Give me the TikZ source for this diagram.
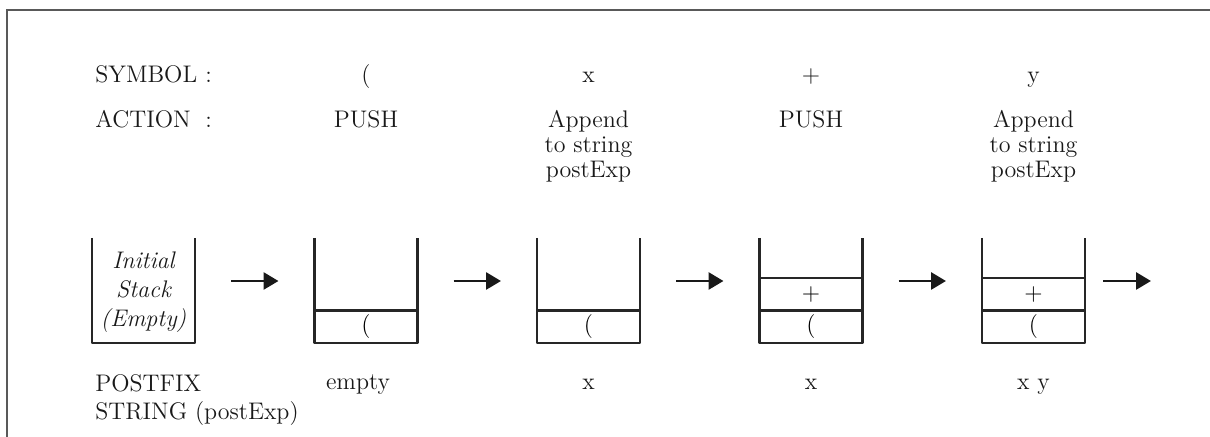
\documentclass[tikz,border=0pt]{standalone}
\usetikzlibrary{positioning,arrows.meta}
\tikzset{
  stack/.style={minimum width=51.5pt, minimum height=52.5pt, inner sep=0pt, outer sep=0pt},
  cell/.style={minimum width=51.5pt, minimum height=16.25pt, inner sep=0pt, outer sep=0pt, font=\fontsize{12}{14}\selectfont},
  wall/.style={line width=1.45pt, line join=round, draw=black!85},
  flow/.style={line width=1.4pt, draw=black!90, -{Triangle[length=7.5pt,width=8.5pt]}, shorten <=18pt, shorten >=18pt},
  lbl/.style={font=\fontsize{12}{12.5}\selectfont, align=center, inner sep=0pt, text=black!90},
}
\begin{document}
\begin{tikzpicture}[x=0.5pt, y=-0.5pt]
	\useasboundingbox (0,0) rectangle (1210,437);
	\draw[line width=1.3pt, draw=black!65] (7,437) -- (7,10) -- (1210,10); %frame

	% the five stacks
	\node[stack] (s1) at (143.5,290.5) {};
	\node[stack, right=59.75pt of s1] (s2) {};
	\node[stack, right=59.75pt of s2] (s3) {};
	\node[stack, right=59.75pt of s3] (s4) {};
	\node[stack, right=59.75pt of s4] (s5) {};
	\foreach \s in {s1,s2,s3,s4,s5}
		\draw[wall] (\s.north west) -- (\s.south west) -- (\s.south east) -- (\s.north east);

	% cells
	\node[cell, above=0pt of s2.south] (c2a) {(};
	\node[cell, above=0pt of s3.south] (c3a) {(};
	\node[cell, above=0pt of s4.south] (c4a) {(};
	\node[cell, above=0pt of c4a] (c4b) {+};
	\node[cell, above=0pt of s5.south] (c5a) {(};
	\node[cell, above=0pt of c5a] (c5b) {+};
	\foreach \c in {c2a,c3a,c4a,c4b,c5a,c5b}
		\draw[wall] (\c.north west) -- (\c.north east);
	\node[lbl, font=\fontsize{12}{14.5}\selectfont\itshape] (init) at ([yshift=-1pt]s1.center) {Initial\\Stack\\(Empty)};

	% arrows
	\foreach \a/\b in {s1/s2,s2/s3,s3/s4,s4/s5}
		\draw[flow] ([yshift=4.75pt]\a.east) -- ([yshift=4.75pt]\b.west);
	\coordinate (out) at (1151,281);
	\draw[flow, shorten <=9pt, shorten >=0pt] ([yshift=4.75pt]s5.east) -- (out);

	% top rows
	\node[lbl, anchor=base west] (symlbl) at (95,83) {\makebox[55pt][l]{SYMBOL}:};
	\node[lbl, anchor=north west] (actlbl) at (95,110) {\makebox[55pt][l]{ACTION}:};
	\node[lbl, anchor=base] (sym2) at (s2 |- symlbl.base) {(};
	\node[lbl, anchor=base] (sym3) at (s3 |- symlbl.base) {x};
	\node[lbl, anchor=base] (sym4) at (s4 |- symlbl.base) {+};
	\node[lbl, anchor=base] (sym5) at (s5 |- symlbl.base) {y};
	\node[lbl, anchor=north] (act2) at (s2 |- actlbl.north) {PUSH};
	\node[lbl, anchor=north] (act3) at (s3 |- actlbl.north) {Append\\to string\\postExp};
	\node[lbl, anchor=north] (act4) at (s4 |- actlbl.north) {PUSH};
	\node[lbl, anchor=north] (act5) at (s5 |- actlbl.north) {Append\\to string\\postExp};

	% postfix row
	\coordinate (pfrow) at (0,390);
	\node[lbl, anchor=north west, align=left, font=\fontsize{12}{14}\selectfont] (pflbl) at (95,374) {POSTFIX\\STRING (postExp)};
	\node[lbl, anchor=base] (pf2) at ([xshift=-4pt]s2 |- pfrow) {empty};
	\node[lbl, anchor=base] (pf3) at (s3 |- pfrow) {x};
	\node[lbl, anchor=base] (pf4) at (s4 |- pfrow) {x};
	\node[lbl, anchor=base] (pf5) at (s5 |- pfrow) {x y};
\end{tikzpicture}
\end{document}
